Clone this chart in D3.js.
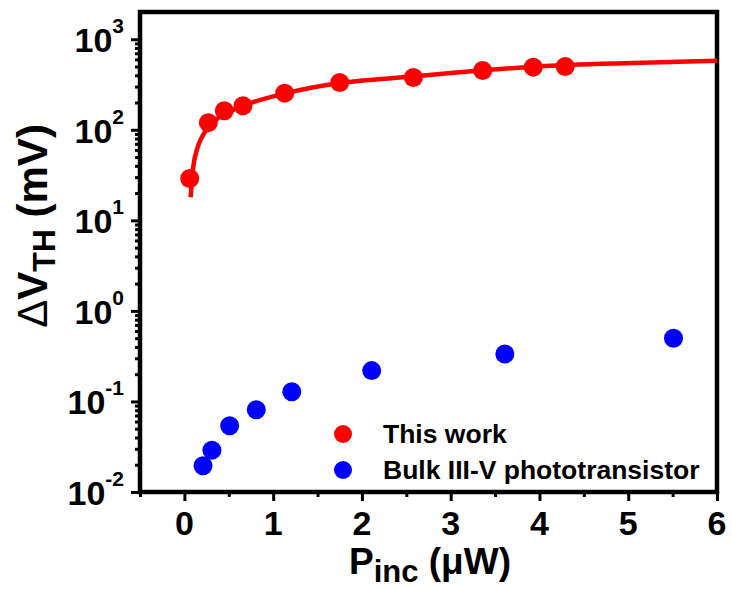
<!DOCTYPE html>
<html>
<head>
<meta charset="utf-8">
<script src="https://cdn.jsdelivr.net/npm/d3@7"></script>
<style>
  html, body { margin: 0; padding: 0; background: #fff; }
  svg { display: block; }
  text { font-family: "Liberation Sans", Arial, sans-serif; font-weight: bold; fill: #000; }
</style>
</head>
<body>
<svg id="chart" width="732" height="589"></svg>
<script>
// ---- data ----
const thisWorkP = [0.06, 0.27, 0.45, 0.66, 1.13, 1.75, 2.58, 3.36, 3.93, 4.29];
const thisWorkV = [29, 120, 162, 184, 254, 333, 378, 452, 492, 500];

const fitP = [0.07, 0.10, 0.14, 0.20, 0.27, 0.38, 0.55, 0.74, 1.12, 1.75, 2.58, 3.0, 3.37, 4.38, 5.05, 6.0];
const fitV = [18, 39, 60, 84, 107, 135, 166, 197, 250, 328, 388, 423, 455, 522, 546, 578];

const bulkP = [0.21, 0.31, 0.51, 0.81, 1.21, 2.11, 3.61, 5.51];
const bulkV = [0.0195, 0.029, 0.054, 0.081, 0.128, 0.219, 0.335, 0.499];

const xTickValues = [0, 1, 2, 3, 4, 5, 6];
const xTickLabels = ["0", "1", "2", "3", "4", "5", "6"];
const xMinorValues = [-0.5, 0.5, 1.5, 2.5, 3.5, 4.5, 5.5];
const yTickExponents = [-2, -1, 0, 1, 2, 3];
const legendLabels = ["This work", "Bulk III-V phototransistor"];
const seriesColors = ["#ff0000", "#0000ff"];

// ---- layout ----
const svg = d3.select("#chart");
const L = 140, R = 717, T = 12, B = 492;

const x = d3.scaleLinear().domain([-0.5, 6]).range([L, R]);
const y = d3.scaleLog().domain([0.01, 2000]).range([B, T]);

// minor y ticks (2..9 in each decade)
const yMinor = [];
for (let e = -2; e <= 3; e++) {
  for (let m = 2; m <= 9; m++) {
    const v = m * Math.pow(10, e);
    if (v < 2000) yMinor.push(v);
  }
}

function styleAxis(g) {
  g.select(".domain").remove();
  g.selectAll(".tick line").attr("stroke", "#000").attr("stroke-width", 3);
  g.selectAll(".tick text").remove();
}

// y axis major + minor
svg.append("g").attr("transform", `translate(${L},0)`)
  .call(d3.axisLeft(y).tickValues(yTickExponents.map(e => Math.pow(10, e))).tickSize(9).tickFormat(""))
  .call(styleAxis);
svg.append("g").attr("transform", `translate(${L},0)`)
  .call(d3.axisLeft(y).tickValues(yMinor).tickSize(5).tickFormat(""))
  .call(styleAxis);

// x axis major + minor
svg.append("g").attr("transform", `translate(0,${B})`)
  .call(d3.axisBottom(x).tickValues(xTickValues).tickSize(9).tickFormat(""))
  .call(styleAxis);
svg.append("g").attr("transform", `translate(0,${B})`)
  .call(d3.axisBottom(x).tickValues(xMinorValues).tickSize(5).tickFormat(""))
  .call(styleAxis);

// frame
svg.append("rect")
  .attr("x", L).attr("y", T).attr("width", R - L).attr("height", B - T)
  .attr("fill", "none").attr("stroke", "#000").attr("stroke-width", 4.5);

// y tick labels 10^n
const yl = svg.append("g");
yTickExponents.forEach(e => {
  const t = yl.append("text")
    .attr("x", 124).attr("y", y(Math.pow(10, e)) + 13)
    .attr("text-anchor", "end");
  t.append("tspan").attr("font-size", 34).text("10");
  t.append("tspan").attr("font-size", 21).attr("dy", -19).text(String(e));
});

// x tick labels
svg.append("g").selectAll("text").data(xTickValues).join("text")
  .attr("x", d => x(d)).attr("y", 535)
  .attr("text-anchor", "middle").attr("font-size", 34)
  .text((d, i) => xTickLabels[i]);

// x axis title
const xt = svg.append("text").attr("x", 430).attr("y", 574).attr("text-anchor", "middle").attr("font-size", 37);
xt.append("tspan").text("P");
xt.append("tspan").attr("font-size", 31).attr("dy", 8).text("inc");
xt.append("tspan").attr("dy", -8).text(" (\u03BCW)");

// y axis title
const yt = svg.append("text")
  .attr("transform", "translate(47,226) rotate(-90)")
  .attr("text-anchor", "middle").attr("font-size", 42);
yt.append("tspan").attr("font-weight", "normal").text("\u0394");
yt.append("tspan").text("V");
yt.append("tspan").attr("font-size", 32).attr("dy", 8).text("TH");
yt.append("tspan").attr("dy", -8).text(" (mV)");

// fit curve
const fitData = fitP.map((p, i) => [p, fitV[i]]);
svg.append("path").datum(fitData)
  .attr("fill", "none").attr("stroke", seriesColors[0]).attr("stroke-width", 4.5)
  .attr("d", d3.line().x(d => x(d[0])).y(d => y(d[1])).curve(d3.curveMonotoneX));

// red points
svg.append("g").selectAll("circle").data(thisWorkP).join("circle")
  .attr("cx", d => x(d)).attr("cy", (d, i) => y(thisWorkV[i]))
  .attr("r", 9.5).attr("fill", seriesColors[0]);

// blue points
svg.append("g").selectAll("circle").data(bulkP).join("circle")
  .attr("cx", d => x(d)).attr("cy", (d, i) => y(bulkV[i]))
  .attr("r", 9.5).attr("fill", seriesColors[1]);

// legend
const lg = svg.append("g");
legendLabels.forEach((lab, i) => {
  const cy = 434 + i * 36;
  lg.append("circle").attr("cx", 343).attr("cy", cy).attr("r", 9).attr("fill", seriesColors[i]);
  lg.append("text").attr("x", 383).attr("y", cy + 9).attr("font-size", 26.5).text(lab);
});
</script>
</body>
</html>
